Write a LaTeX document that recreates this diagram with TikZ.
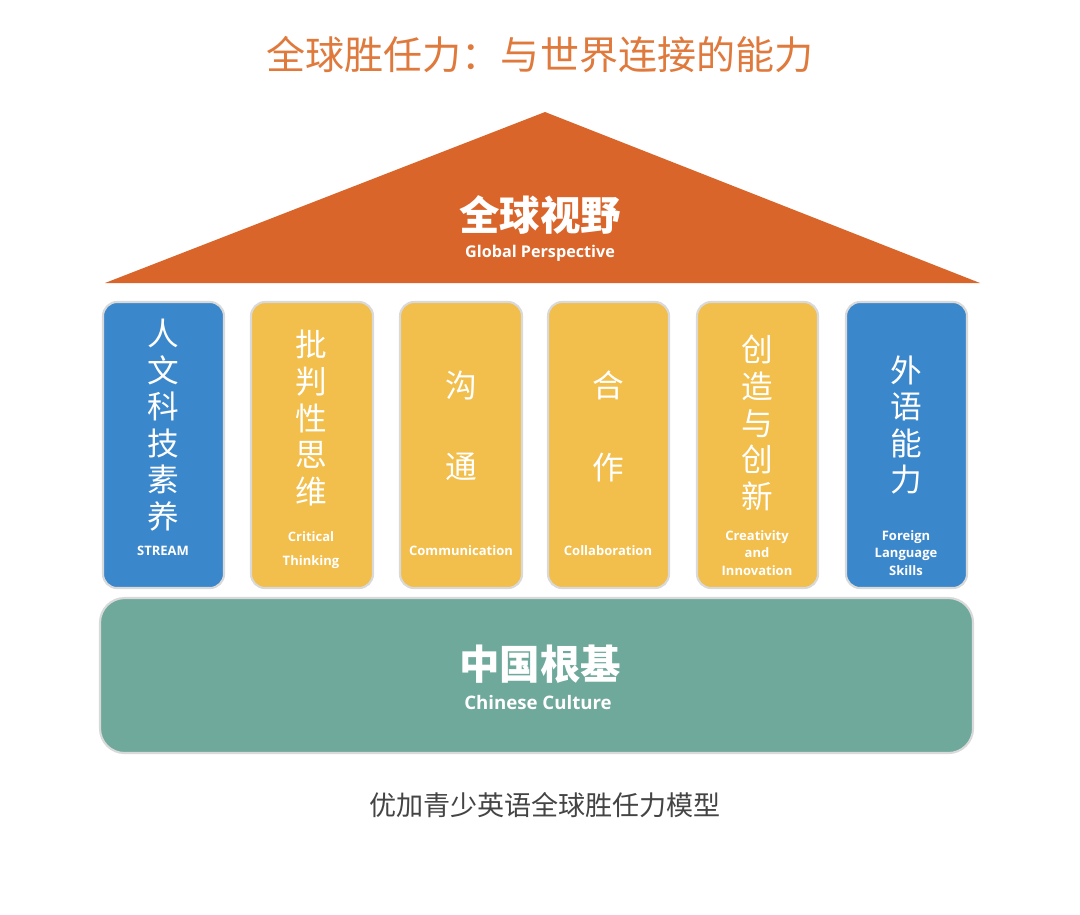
\documentclass[tikz,border=0pt]{standalone}
\usepackage{fontspec}
\setmainfont{Noto Sans CJK SC}
\newfontfamily\latfont{Open Sans}
\definecolor{ttl}{HTML}{E07A3C}
\definecolor{roof}{HTML}{D9652A}
\definecolor{pblue}{HTML}{3B87CB}
\definecolor{pyel}{HTML}{F2BE4C}
\definecolor{base}{HTML}{6FA99B}
\definecolor{cap}{HTML}{444444}
\begin{document}
\begin{tikzpicture}[x=0.01cm,y=-0.01cm,
  pil/.style={rounded corners=4pt, draw=white!85!black, line width=0.6pt},
  ch/.style={text=white, align=center, font=\fontsize{9}{10.4}\selectfont, inner sep=0pt},
  en/.style={text=white, align=center, font=\latfont\bfseries\fontsize{3.7}{5}\selectfont, inner sep=0pt}]
\useasboundingbox (0,0) rectangle (1080,914);
\fill[white] (0,0) rectangle (1080,914);
\node[text=ttl, font=\fontsize{11.1}{13}\selectfont] (t) at (540,55) {全球胜任力：与世界连接的能力};
\fill[roof] (545,112) -- (980,283) -- (105,283) -- cycle;
\node[text=white, font=\bfseries\fontsize{11.5}{13}\selectfont] (r1) at (540,215) {全球视野};
\node[text=white, font=\latfont\bfseries\fontsize{4.6}{6}\selectfont] (r2) at (540,253) {Global Perspective};
% pillars
\filldraw[pil, fill=pblue] (103,302) rectangle (224,588);
\filldraw[pil, fill=pyel] (251,302) rectangle (373,588);
\filldraw[pil, fill=pyel] (400,302) rectangle (522,588);
\filldraw[pil, fill=pyel] (548,302) rectangle (669,588);
\filldraw[pil, fill=pyel] (697,302) rectangle (818,588);
\filldraw[pil, fill=pblue] (846,302) rectangle (967,588);
\node[ch] (p1) at (163,425) {人\\文\\科\\技\\素\\养};
\node[en] (e1) at (163,551) {STREAM};
\node[ch] (p2) at (311,418) {批\\判\\性\\思\\维};
\node[en] (e2) at (311,550) {Critical\\[2pt]Thinking};
\node[ch] (p3) at (461,385) {沟};
\node[ch] (p3b) at (461,467) {通};
\node[en] (e3) at (461,551) {Communication};
\node[ch] (p4) at (608,385) {合};
\node[ch] (p4b) at (608,467) {作};
\node[en] (e4) at (608,551) {Collaboration};
\node[ch] (p5) at (757,423) {创\\造\\与\\创\\新};
\node[en] (e5) at (757,553) {Creativity\\and\\Innovation};
\node[ch] (p6) at (906,425) {外\\语\\能\\力};
\node[en] (e6) at (906,553) {Foreign\\Language\\Skills};
% base
\filldraw[pil, fill=base, rounded corners=7pt] (100,598) rectangle (973,753);
\node[text=white, font=\bfseries\fontsize{11.5}{13}\selectfont] (b1) at (540,664) {中国根基};
\node[text=white, font=\latfont\bfseries\fontsize{5.3}{6}\selectfont] (b2) at (538,702) {Chinese Culture};
\node[text=cap, font=\fontsize{7.7}{9}\selectfont] (c) at (545,805) {优加青少英语全球胜任力模型};
\end{tikzpicture}
\end{document}
